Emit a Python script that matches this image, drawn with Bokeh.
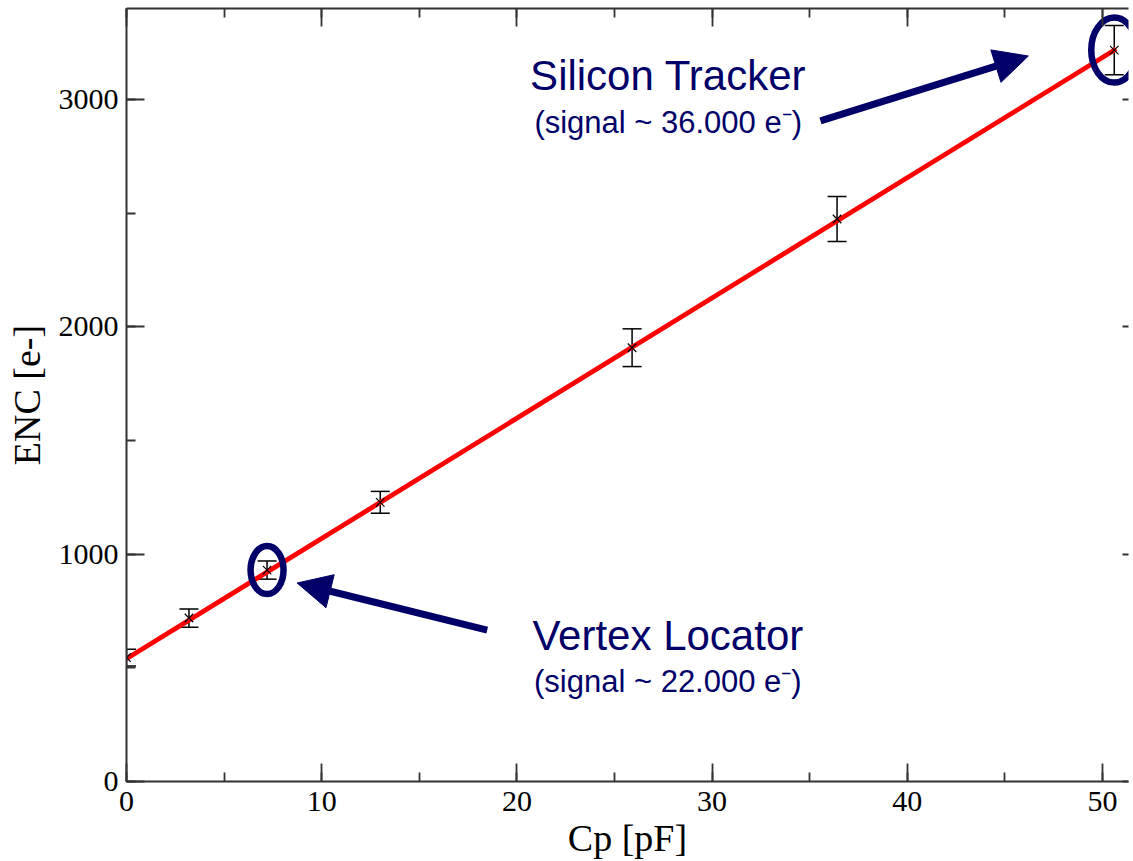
from bokeh.plotting import figure
from bokeh.models import (ColumnDataSource, Whisker, TeeHead, Arrow, NormalHead,
                          LinearAxis, SingleIntervalTicker, Label,
                          CustomLabelingPolicy)
from bokeh.embed import file_html
from bokeh.resources import INLINE

# ---- data ----
cp_pf = [0.0, 3.2, 7.2, 13.0, 25.9, 36.4, 50.6]
enc_e = [545, 719, 930, 1228, 1908, 2474, 3217]
enc_err = [37, 40, 40, 48, 83, 99, 108]
fit_cp = [0.0, 50.7]
fit_enc = [540, 3222]

x_label = "Cp [pF]"
y_label = "ENC [e-]"

ann_title_1 = "Silicon Tracker"
ann_sub_1 = "(signal ~ 36.000 e\u207b)"
ann_title_2 = "Vertex Locator"
ann_sub_2 = "(signal ~ 22.000 e\u207b)"

NAVY = "#000068"
AXC = "#333333"
SERIF = "Liberation Serif"
SANS = "Liberation Sans"

p = figure(width=1133, height=861, x_range=(0, 51.33), y_range=(0, 3400),
           output_backend="svg", toolbar_location=None,
           min_border_left=126, min_border_right=0, min_border_top=8,
           min_border_bottom=79, x_axis_location=None, y_axis_location=None)
p.grid.visible = False
p.outline_line_color = None
p.background_fill_color = "white"
p.border_fill_color = "white"

no_labels = CustomLabelingPolicy(code="""
for (const i of indices) { indices.unset(i) }
return indices
""")


def style_axis(ax, show_labels):
    ax.axis_line_color = AXC
    ax.axis_line_width = 2
    ax.major_tick_line_color = AXC
    ax.minor_tick_line_color = AXC
    ax.major_tick_line_width = 1.8
    ax.minor_tick_line_width = 1.8
    ax.major_tick_in = 18
    ax.major_tick_out = 0
    ax.minor_tick_in = 9
    ax.minor_tick_out = 0
    if show_labels:
        ax.major_label_text_font = SERIF
        ax.major_label_text_font_size = "30px"
        ax.major_label_text_color = "black"
        ax.axis_label_text_font = SERIF
        ax.axis_label_text_font_size = "38px"
        ax.axis_label_text_font_style = "normal"
        ax.axis_label_text_color = "black"
    else:
        ax.major_label_policy = no_labels
        ax.major_label_text_font_size = "1px"
        ax.major_label_standoff = 0


xb = LinearAxis(ticker=SingleIntervalTicker(interval=10, num_minor_ticks=2),
                axis_label=x_label)
style_axis(xb, True)
xb.major_label_standoff = 10
xb.axis_label_standoff = 3
p.add_layout(xb, "below")

xt = LinearAxis(ticker=SingleIntervalTicker(interval=10, num_minor_ticks=2))
style_axis(xt, False)
p.add_layout(xt, "above")

yl = LinearAxis(ticker=SingleIntervalTicker(interval=1000, num_minor_ticks=2),
                axis_label=y_label)
style_axis(yl, True)
yl.major_label_standoff = 8
yl.axis_label_standoff = 8
p.add_layout(yl, "left")

yr = LinearAxis(ticker=SingleIntervalTicker(interval=1000, num_minor_ticks=2))
style_axis(yr, False)
yr.axis_line_color = None
yr.major_tick_in = 6
yr.minor_tick_in = 0
p.add_layout(yr, "right")

# ---- error bars ----
src = ColumnDataSource(dict(
    x=cp_pf, y=enc_e,
    upper=[v + e for v, e in zip(enc_e, enc_err)],
    lower=[v - e for v, e in zip(enc_e, enc_err)],
))
wh = Whisker(source=src, base="x", upper="upper", lower="lower",
             dimension="height", line_color="black", line_width=1.5,
             upper_head=TeeHead(size=19, line_color="black", line_width=1.5),
             lower_head=TeeHead(size=19, line_color="black", line_width=1.5),
             level="underlay")
p.add_layout(wh)

# ---- fit line ----
p.line(fit_cp, fit_enc, line_color="#ff0000", line_width=4.8)

# ---- points ----
p.scatter("x", "y", source=src, marker="x", size=12,
          line_color="black", line_width=1.2)

# ---- annotations ----
hl_points = [2, 6]
hl_w = [33, 46]
hl_h = [48, 65]
p.ellipse(x=[cp_pf[i] for i in hl_points], y=[enc_e[i] for i in hl_points],
          width=hl_w, height=hl_h, width_units="screen", height_units="screen",
          fill_color=None, line_color=NAVY, line_width=6.5)

arrow_1 = dict(x_start=35.55, y_start=2906, x_end=46.2, y_end=3191)
arrow_2 = dict(x_start=18.48, y_start=666, x_end=8.74, y_end=873)
for a in (arrow_1, arrow_2):
    p.add_layout(Arrow(end=NormalHead(size=34, fill_color=NAVY, line_color=NAVY,
                                      line_width=1),
                       line_color=NAVY, line_width=7, **a))

labels = [
    (27.75, 3104, ann_title_1, "42px"),
    (27.75, 2897, ann_sub_1, "31px"),
    (27.73, 644, ann_title_2, "42px"),
    (27.73, 438, ann_sub_2, "31px"),
]
for lx, ly, txt, fs in labels:
    p.add_layout(Label(x=lx, y=ly, text=txt, text_font=SANS, text_font_size=fs,
                       text_color=NAVY, text_align="center",
                       text_baseline="alphabetic"))

open("out.html", "w").write(file_html(p, INLINE))
